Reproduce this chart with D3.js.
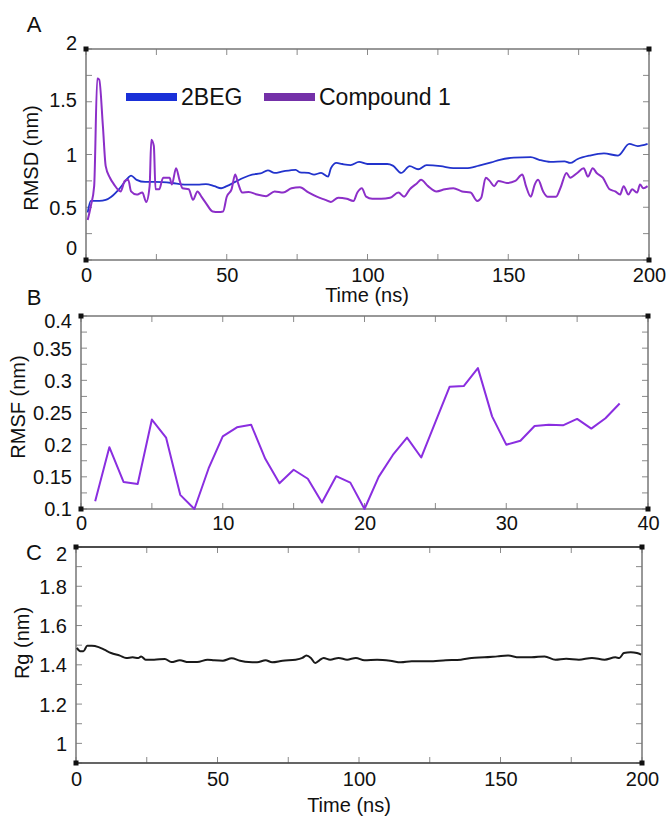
<!DOCTYPE html>
<html><head><meta charset="utf-8">
<script src="https://cdn.jsdelivr.net/npm/d3@7"></script>
<style>
html,body{margin:0;padding:0;background:#fff;}
svg text{font-family:"Liberation Sans",Arial,sans-serif;fill:#111;}
</style></head>
<body><svg id="c" width="672" height="816"></svg>
<script>
// ---- Panel A: RMSD ----
const begTime = [0.6,1.7,4.7,7,9,12,15,16,18,21,24.4,30.5,35,39.6,42.6,45.6,48,50,53,56,59,62,64.6,67,70,74.5,76,79,81,83.5,86,87,89,91,94,97,100,103,107,109,112,115,118,121,126,130.5,135,139.6,144,147,152,158,161,165,170,172,174.5,179,184,189,193,196,199.5];
const begRmsd = [0.45,0.56,0.56,0.57,0.60,0.68,0.78,0.80,0.76,0.74,0.74,0.73,0.715,0.715,0.72,0.70,0.68,0.70,0.74,0.78,0.81,0.82,0.85,0.825,0.84,0.855,0.83,0.825,0.81,0.825,0.79,0.87,0.92,0.91,0.90,0.93,0.91,0.91,0.91,0.895,0.825,0.89,0.86,0.90,0.89,0.87,0.87,0.895,0.925,0.95,0.97,0.975,0.95,0.93,0.935,0.92,0.955,0.99,1.01,0.99,1.10,1.08,1.10];
const cmpTime = [0.6,1.7,2.9,4,4.7,6,7,8.5,10,12.3,13.8,15,16,18,20,21.4,22.6,23.2,24.1,24.7,26,27.4,29.7,30.5,32,33.2,34.3,36.5,38,39.6,41,42.6,45,47,48.7,50,51.7,53,54,55.5,57.8,60.8,64,67,70,73,76,79,82,85,87,89.6,92.6,95,96.4,98,99.5,101.7,104.8,108,111,113,115,117.7,119,121.5,124.5,127.5,130.5,133.6,136.6,139,140.4,142,143.4,145,146.5,149.5,152.5,155,156.3,158,159.4,160.6,162.4,164,167,168.5,170.7,172,174.5,176.8,178.3,180,181.4,183.6,186,188,189.7,191,192.7,194,195.8,196.8,198,199.5];
const cmpRmsd = [0.38,0.51,0.70,1.72,1.71,1.27,0.89,0.78,0.715,0.65,0.75,0.76,0.65,0.62,0.64,0.55,0.70,1.14,1.08,0.67,0.67,0.78,0.78,0.715,0.87,0.76,0.68,0.67,0.57,0.65,0.60,0.54,0.46,0.455,0.46,0.60,0.67,0.81,0.73,0.64,0.645,0.62,0.605,0.65,0.64,0.68,0.69,0.64,0.60,0.57,0.55,0.59,0.58,0.56,0.64,0.68,0.60,0.58,0.58,0.59,0.64,0.60,0.67,0.73,0.76,0.70,0.65,0.67,0.68,0.65,0.64,0.56,0.59,0.78,0.75,0.70,0.75,0.73,0.75,0.81,0.70,0.60,0.715,0.76,0.65,0.60,0.60,0.68,0.825,0.78,0.825,0.87,0.79,0.87,0.825,0.78,0.67,0.65,0.62,0.70,0.62,0.67,0.64,0.715,0.68,0.70];
const seriesNames = ["2BEG","Compound 1"];
const rmsdXTicks = [0,50,100,150,200];
const rmsdYTicks = [0,0.5,1,1.5,2];

// ---- Panel B: RMSF ----
const residue = [1,2,3,4,5,6,7,8,9,10,11,12,13,14,15,16,17,18,19,20,21,22,23,24,25,26,27,28,29,30,31,32,33,34,35,36,37,38];
const rmsf = [0.112,0.196,0.142,0.139,0.239,0.211,0.122,0.100,0.163,0.213,0.227,0.231,0.178,0.140,0.161,0.147,0.110,0.151,0.141,0.100,0.150,0.184,0.211,0.180,0.235,0.290,0.291,0.319,0.244,0.200,0.206,0.229,0.231,0.230,0.240,0.225,0.241,0.264];
const rmsfXTicks = [0,10,20,30,40];
const rmsfYTicks = [0.1,0.15,0.2,0.25,0.3,0.35,0.4];

// ---- Panel C: Rg ----
const rgTime = [0.3,1.5,2.6,4,5.6,8,10,12.4,15.5,17.7,20,22,23,24.6,27.6,31.4,33.7,36.7,39.7,42.8,46.5,48.8,51.9,55,58,61,64,67,69.3,73,77.6,80,81.4,83,84.5,86,87.5,89.8,92.8,95.8,98.9,101.9,106.4,111,114.8,118.6,124.6,130.7,136,139.8,144.3,148.9,152.7,156.5,161,165.6,169.4,173.2,177.7,182.3,186.8,190.6,192,193.6,196,198.2,199.7];
const rg = [1.486,1.469,1.469,1.497,1.497,1.49,1.477,1.46,1.447,1.435,1.438,1.435,1.443,1.426,1.426,1.43,1.414,1.423,1.414,1.414,1.426,1.423,1.421,1.433,1.421,1.414,1.413,1.423,1.413,1.421,1.426,1.435,1.447,1.435,1.409,1.423,1.435,1.426,1.435,1.426,1.435,1.423,1.426,1.421,1.413,1.418,1.418,1.423,1.426,1.435,1.438,1.443,1.447,1.438,1.438,1.443,1.426,1.431,1.426,1.435,1.426,1.438,1.435,1.46,1.464,1.46,1.452];
const rgXTicks = [0,50,100,150,200];
const rgYTicks = [1,1.2,1.4,1.6,1.8,2];

const svg = d3.select("#c");
const FS = 20;

function frame(g, x, y, xMinor, yMinor, topColor) {
  const [x0,x1] = x.range(), [y0,y1] = y.range(); // y0 bottom, y1 top
  const tl = 6;
  const tg = g.append("g").attr("stroke","#8a8a8a").attr("stroke-width",1);
  xMinor.forEach(v=>{
    const px = x(v);
    tg.append("line").attr("x1",px).attr("x2",px).attr("y1",y0).attr("y2",y0-tl);
    tg.append("line").attr("x1",px).attr("x2",px).attr("y1",y1).attr("y2",y1+tl);
  });
  yMinor.forEach(v=>{
    const py = y(v);
    tg.append("line").attr("x1",x0).attr("x2",x0+tl).attr("y1",py).attr("y2",py);
    tg.append("line").attr("x1",x1).attr("x2",x1-tl).attr("y1",py).attr("y2",py);
  });
  g.append("rect").attr("x",x0).attr("y",y1).attr("width",x1-x0).attr("height",y0-y1)
    .attr("fill","none").attr("stroke","#777").attr("stroke-width",1.5);
  if (topColor) {
    g.append("line").attr("x1",x0).attr("x2",x1).attr("y1",y1).attr("y2",y1).attr("stroke",topColor).attr("stroke-width",1.5);
    g.append("line").attr("x1",x0).attr("x2",x1).attr("y1",y0).attr("y2",y0).attr("stroke",topColor).attr("stroke-width",1.2);
  }
  [[x0,y0],[x1,y0],[x0,y1],[x1,y1]].forEach(([cx,cy])=>{
    g.append("rect").attr("x",cx-2.5).attr("y",cy-2.5).attr("width",5).attr("height",5).attr("fill","#111");
  });
}

function tickLabels(g, x, y, xt, yt, fmt, yAdj, xLabY) {
  const [x0] = x.range();
  const [yb] = y.range();
  const ya = g.append("g").attr("transform",`translate(${x0-6},0)`)
    .call(d3.axisLeft(y).tickValues(yt).tickSize(0).tickFormat(fmt));
  ya.select(".domain").remove();
  ya.selectAll("text").attr("font-size",FS).attr("font-family","Liberation Sans, Arial, sans-serif")
    .attr("fill","#111").attr("dy",(d,i)=> (yAdj[i]||0) + 7 + "px");
  const xa = g.append("g").attr("transform",`translate(0,${yb + xLabY})`)
    .call(d3.axisBottom(x).tickValues(xt).tickSize(0).tickFormat(d3.format("d")));
  xa.select(".domain").remove();
  xa.selectAll("text").attr("font-size",FS).attr("font-family","Liberation Sans, Arial, sans-serif").attr("fill","#111").attr("dy","0.71em");
}

const yfmt = v => String(+v.toFixed(2));

// Panel A
{
  const g = svg.append("g");
  const x = d3.scaleLinear().domain([0,200]).range([86,649]);
  const y = d3.scaleLinear().domain([0,2]).range([260,49]);
  frame(g, x, y, d3.range(0,201,25), d3.range(0,2.01,0.25));
  const line = d3.line().curve(d3.curveMonotoneX).x(d=>x(d[0])).y(d=>y(d[1]));
  g.append("path").datum(begTime.map((t,i)=>[t,begRmsd[i]])).attr("d",line)
    .attr("fill","none").attr("stroke","#2233cc").attr("stroke-width",1.8).attr("stroke-linejoin","round");
  g.append("path").datum(cmpTime.map((t,i)=>[t,cmpRmsd[i]])).attr("d",line)
    .attr("fill","none").attr("stroke","#8c2fc8").attr("stroke-width",2).attr("stroke-linejoin","round");
  tickLabels(g, x, y, rmsdXTicks, rmsdYTicks, yfmt, [-13,0,0,-2,-7], 5);
  // legend
  const lg = g.append("g");
  const colors = ["#1a30d8","#7430a8"];
  const lx = [126,264];
  seriesNames.forEach((n,i)=>{
    lg.append("rect").attr("x",lx[i]).attr("y",93).attr("width",51).attr("height",8).attr("fill",colors[i]);
    lg.append("text").attr("x",lx[i]+55).attr("y",105).attr("font-size",23).text(n);
  });
  g.append("text").attr("x",34).attr("y",32).attr("text-anchor","middle").attr("font-size",22).text("A");
  g.append("text").attr("transform","translate(38,158) rotate(-90)").attr("text-anchor","middle").attr("font-size",FS).text("RMSD (nm)");
  g.append("text").attr("x",367).attr("y",302).attr("text-anchor","middle").attr("font-size",FS).text("Time (ns)");
}

// Panel B
{
  const g = svg.append("g");
  const x = d3.scaleLinear().domain([0,40]).range([81,648]);
  const y = d3.scaleLinear().domain([0.1,0.4]).range([509,316]);
  frame(g, x, y, d3.range(0,41,5), d3.range(0,13).map(i=>0.1+i*0.025));
  const line = d3.line().x(d=>x(d[0])).y(d=>y(d[1]));
  g.append("path").datum(residue.map((r,i)=>[r,rmsf[i]])).attr("d",line)
    .attr("fill","none").attr("stroke","#8a2ee0").attr("stroke-width",2).attr("stroke-linejoin","round");
  tickLabels(g, x, y, rmsfXTicks, rmsfYTicks, yfmt, [-1,0,0,0,0,0,4], 4);
  g.append("text").attr("x",34).attr("y",305).attr("text-anchor","middle").attr("font-size",22).text("B");
  g.append("text").attr("transform","translate(25,407) rotate(-90)").attr("text-anchor","middle").attr("font-size",FS).text("RMSF (nm)");
}

// Panel C
{
  const g = svg.append("g");
  const x = d3.scaleLinear().domain([0,200]).range([76,642]);
  const y = d3.scaleLinear().domain([0.9,2]).range([763,547]);
  frame(g, x, y, d3.range(0,201,25), d3.range(0,12).map(i=>0.9+i*0.1), "#333");
  const line = d3.line().curve(d3.curveMonotoneX).x(d=>x(d[0])).y(d=>y(d[1]));
  g.append("path").datum(rgTime.map((t,i)=>[t,rg[i]])).attr("d",line)
    .attr("fill","none").attr("stroke","#1a1a1a").attr("stroke-width",2).attr("stroke-linejoin","round");
  tickLabels(g, x, y, rgXTicks, rgYTicks, yfmt, [0,0,0,0,0,6], 6);
  g.append("text").attr("x",34).attr("y",560).attr("text-anchor","middle").attr("font-size",22).text("C");
  g.append("text").attr("transform","translate(29,643) rotate(-90)").attr("text-anchor","middle").attr("font-size",FS).text("Rg (nm)");
  g.append("text").attr("x",349).attr("y",812).attr("text-anchor","middle").attr("font-size",FS).text("Time (ns)");
}
</script></body></html>
